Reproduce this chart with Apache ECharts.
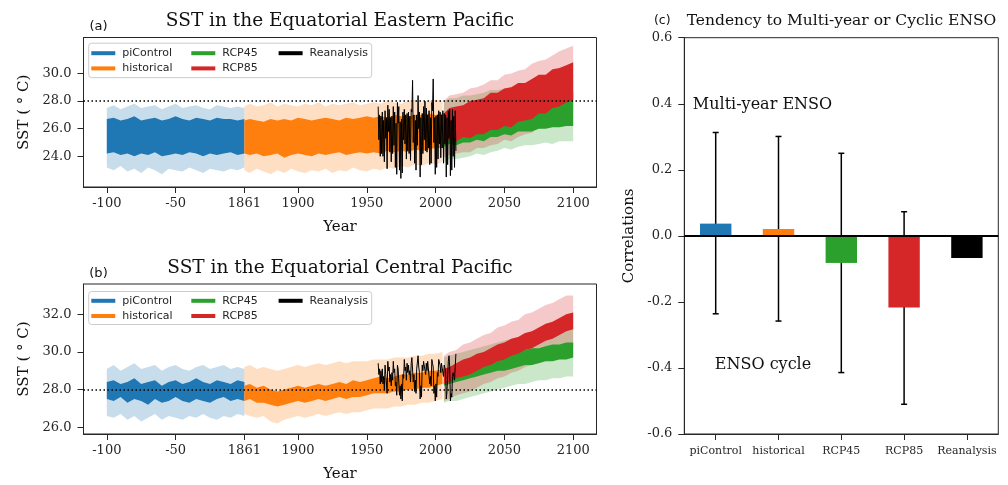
<!DOCTYPE html>
<html><head><meta charset="utf-8">
<script src="https://cdn.jsdelivr.net/npm/echarts@6/dist/echarts.min.js"></script>
<style>html,body{margin:0;padding:0;background:#fff}#c{width:1008px;height:485px}</style>
</head><body><div id="c"></div>
<script>
// ---------------- DATA ----------------
// x tick labels of panels (a)/(b): piControl years (-100..0) then calendar years
const xTickYears = [-100, -50, 1861, 1900, 1950, 2000, 2050, 2100];
const BASE_YEAR = 1861;

const piYears = [-100,-95,-90,-85,-80,-75,-70,-65,-60,-55,-50,-45,-40,-35,-30,-25,-20,-15,-10,-5,0];
const histYears = [1861,1865,1870,1875,1880,1885,1890,1895,1900,1905,1910,1915,1920,1925,1930,1935,1940,1945,1950,1955,1960,1965,1970,1975,1980,1985,1990,1995,2000,2005];
const rcpYears = [2006,2010,2015,2020,2025,2030,2035,2040,2045,2050,2055,2060,2065,2070,2075,2080,2085,2090,2095,2100];

// Panel (a) Eastern Pacific (deg C): dark band = model series range, light band = spread
const piA_darkTop  = [26.7,26.8,26.6,26.7,26.9,26.6,26.7,26.8,26.6,26.7,26.9,26.7,26.6,26.8,26.7,26.6,26.8,26.7,26.7,26.6,26.7];
const piA_darkBot  = [24.2,24.3,24.1,24.2,24.0,24.2,24.1,24.3,24.0,24.1,24.2,24.1,24.3,24.2,24.0,24.2,24.1,24.2,24.3,24.1,24.2];
const piA_lightTop = [27.5,27.7,27.4,27.6,27.8,27.5,27.6,27.7,27.4,27.6,27.8,27.5,27.6,27.7,27.5,27.4,27.7,27.6,27.5,27.6,27.5];
const piA_lightBot = [23.2,23.0,23.3,22.9,23.1,22.8,23.2,23.0,22.7,23.1,23.0,22.9,23.2,23.0,22.8,23.1,23.0,22.9,23.1,23.0,23.2];

const histA_darkTop  = [26.6,26.7,26.6,26.5,26.7,26.6,26.7,26.6,26.8,26.7,26.6,26.7,26.8,26.7,26.6,26.8,26.7,26.8,26.9,26.8,26.9,26.8,27.0,26.9,26.9,27.0,27.0,27.1,27.0,27.1];
const histA_darkBot  = [24.2,24.1,24.2,24.0,24.1,24.2,23.9,24.1,24.2,24.1,24.0,24.2,24.1,24.2,24.3,24.1,24.2,24.3,24.2,24.3,24.2,24.4,24.3,24.4,24.3,24.5,24.4,24.5,24.6,24.6];
const histA_lightTop = [27.6,27.8,27.6,27.7,27.9,27.6,27.8,27.7,27.6,27.8,27.7,27.9,27.6,27.8,27.7,27.8,27.9,27.7,27.8,27.9,27.8,28.0,27.9,27.8,28.0,28.1,27.9,28.0,28.1,28.0];
const histA_lightBot = [23.0,22.8,23.1,22.9,22.7,23.0,22.8,23.1,22.9,22.8,23.0,22.9,23.1,22.8,23.0,22.9,23.2,23.0,22.9,23.1,23.0,23.2,23.1,23.3,23.2,23.4,23.3,23.5,23.4,23.6];

const rcp45A_darkTop  = [27.1,27.3,27.4,27.5,27.6,27.6,27.7,27.9,27.9,28.0,28.1,28.1,28.2,28.3,28.3,28.4,28.4,28.5,28.6,28.6];
const rcp45A_darkBot  = [24.7,24.9,24.8,25.0,25.0,25.2,25.1,25.4,25.4,25.6,25.5,25.8,25.8,25.8,26.0,26.0,26.1,26.1,26.2,26.2];
const rcp45A_lightTop = [28.0,28.2,28.2,28.4,28.4,28.5,28.6,28.8,28.8,28.9,29.0,29.1,29.2,29.2,29.3,29.4,29.4,29.5,29.6,29.6];
const rcp45A_lightBot = [23.5,23.8,23.8,23.9,24.0,24.2,24.1,24.3,24.4,24.6,24.5,24.7,24.8,24.8,24.9,25.0,24.9,25.1,25.1,25.1];

const rcp85A_darkTop  = [27.1,27.5,27.6,27.7,28.0,28.1,28.2,28.6,28.6,28.9,29.0,29.3,29.3,29.6,29.9,29.9,30.3,30.4,30.6,30.8];
const rcp85A_darkBot  = [25.0,25.2,25.1,25.4,25.3,25.6,25.6,25.9,25.9,26.2,26.1,26.5,26.6,26.7,27.1,27.1,27.5,27.6,27.9,28.1];
const rcp85A_lightTop = [28.0,28.4,28.5,28.6,28.9,29.0,29.2,29.5,29.5,29.9,30.0,30.2,30.3,30.7,30.9,31.0,31.3,31.6,31.8,32.0];
const rcp85A_lightBot = [23.9,24.1,24.2,24.3,24.3,24.6,24.6,24.8,24.9,25.2,25.1,25.4,25.6,25.7,26.1,26.1,26.5,26.6,26.9,27.1];

// Reanalysis 1958-2014: per year warm-season peak and cold-season trough
const REAN_START = 1958;
const reanA_max = [27.6,27.0,26.9,27.2,26.6,27.3,26.8,27.7,27.4,26.8,26.9,27.6,27.2,26.4,27.9,27.6,26.5,26.7,27.2,27.4,27.0,27.1,27.2,26.9,27.4,29.5,27.0,26.6,27.0,28.4,27.2,26.8,27.1,27.6,28.0,27.5,27.0,27.3,26.8,27.9,29.6,26.8,26.9,27.0,27.3,27.2,27.0,27.3,27.1,27.0,26.8,27.3,27.4,26.6,27.4,26.9,27.3];
const reanA_min = [25.2,24.0,24.2,24.0,23.6,25.3,23.1,25.8,24.3,23.6,24.2,24.8,23.2,22.7,26.4,23.0,22.4,22.8,25.2,24.9,23.8,24.4,24.2,23.7,27.2,25.0,23.5,23.0,24.8,26.0,22.5,23.4,24.2,25.2,24.4,24.3,24.6,23.4,23.5,27.3,25.0,22.7,23.2,23.8,24.9,23.9,24.6,23.5,24.9,22.5,23.4,25.3,22.6,23.0,24.0,23.2,24.4];

// Panel (b) Central Pacific (deg C)
const piB_darkTop  = [28.4,28.5,28.3,28.4,28.6,28.3,28.4,28.5,28.2,28.4,28.5,28.3,28.4,28.6,28.4,28.3,28.5,28.4,28.3,28.5,28.4];
const piB_darkBot  = [27.5,27.4,27.6,27.3,27.5,27.4,27.2,27.5,27.3,27.4,27.6,27.4,27.3,27.5,27.4,27.3,27.5,27.6,27.4,27.5,27.4];
const piB_lightTop = [29.1,29.3,29.0,29.2,29.4,29.1,29.2,29.3,29.0,29.2,29.3,29.1,29.0,29.2,29.3,29.1,29.2,29.3,29.1,29.2,29.1];
const piB_lightBot = [26.6,26.5,26.7,26.4,26.6,26.3,26.5,26.7,26.4,26.6,26.5,26.4,26.6,26.5,26.7,26.5,26.4,26.6,26.5,26.7,26.6];

const histB_darkTop  = [28.2,28.3,28.1,28.2,28.0,27.9,28.0,28.1,28.2,28.1,28.2,28.3,28.2,28.3,28.4,28.3,28.5,28.4,28.5,28.6,28.7,28.6,28.7,28.8,28.8,28.9,28.9,29.0,29.0,29.1];
const histB_darkBot  = [27.4,27.5,27.3,27.3,27.2,27.1,27.2,27.3,27.4,27.3,27.4,27.5,27.4,27.5,27.6,27.5,27.6,27.6,27.7,27.8,27.8,27.8,27.9,27.9,28.0,28.0,28.1,28.1,28.2,28.3];
const histB_lightTop = [29.2,29.3,29.1,29.2,29.1,29.0,29.1,29.2,29.3,29.2,29.3,29.4,29.3,29.4,29.5,29.4,29.5,29.5,29.5,29.6,29.6,29.6,29.7,29.7,29.7,29.8,29.8,29.9,29.9,30.0];
const histB_lightBot = [26.7,26.6,26.5,26.6,26.3,26.2,26.4,26.5,26.6,26.5,26.6,26.7,26.6,26.7,26.8,26.7,26.8,26.8,26.9,27.0,27.0,27.0,27.1,27.1,27.2,27.2,27.3,27.3,27.4,27.5];

const rcp45B_darkTop  = [29.0,29.1,29.2,29.3,29.4,29.5,29.6,29.7,29.8,29.9,29.9,30.0,30.1,30.2,30.2,30.3,30.4,30.4,30.5,30.5];
const rcp45B_darkBot  = [28.2,28.3,28.4,28.5,28.6,28.7,28.8,28.9,29.0,29.0,29.1,29.2,29.3,29.3,29.4,29.5,29.5,29.6,29.6,29.7];
const rcp45B_lightTop = [29.7,29.8,29.9,30.0,30.1,30.2,30.3,30.4,30.5,30.6,30.7,30.8,30.8,30.9,31.0,31.0,31.1,31.1,31.2,31.2];
const rcp45B_lightBot = [27.3,27.4,27.4,27.5,27.6,27.7,27.8,27.9,28.0,28.1,28.2,28.3,28.3,28.4,28.5,28.5,28.6,28.6,28.7,28.7];

const rcp85B_darkTop  = [29.1,29.2,29.4,29.6,29.7,29.9,30.0,30.2,30.4,30.5,30.7,30.8,31.0,31.1,31.3,31.5,31.6,31.8,32.0,32.1];
const rcp85B_darkBot  = [28.3,28.4,28.6,28.7,28.8,29.0,29.2,29.3,29.5,29.6,29.8,29.9,30.1,30.2,30.4,30.6,30.7,30.9,31.1,31.2];
const rcp85B_lightTop = [29.8,30.0,30.1,30.4,30.5,30.7,30.9,31.0,31.3,31.4,31.6,31.7,32.0,32.1,32.3,32.5,32.6,32.8,33.0,33.0];
const rcp85B_lightBot = [27.4,27.5,27.7,27.8,27.9,28.1,28.3,28.4,28.6,28.7,28.9,29.0,29.2,29.3,29.5,29.6,29.8,29.9,30.1,30.2];

const reanB_max = [29.4,29.1,29.0,29.1,28.7,29.3,28.7,29.5,29.2,28.8,28.9,29.5,29.1,28.4,29.3,29.2,28.2,28.3,28.8,29.6,29.2,29.4,29.3,29.0,29.4,29.6,28.8,28.5,29.1,29.8,28.9,28.2,29.3,29.5,29.6,29.4,29.5,29.4,28.7,29.6,29.2,28.2,28.3,28.9,29.6,29.3,29.4,29.3,29.3,29.0,27.9,29.5,29.2,27.8,28.7,28.7,29.2];
const reanB_min = [28.8,28.3,28.4,28.3,28.0,28.8,27.8,29.0,28.4,28.2,28.5,28.9,28.2,27.7,29.1,27.7,27.5,27.4,28.6,29.0,28.5,28.9,28.8,28.4,29.7,28.4,27.9,27.8,29.1,29.2,27.5,27.6,29.0,29.4,28.8,29.0,29.6,28.3,28.2,29.4,27.8,27.4,27.6,28.7,29.7,28.9,29.5,28.7,29.4,27.5,27.8,29.8,27.4,27.6,28.9,28.5,29.9];

// Panel (c)
const categories = ['piControl','historical','RCP45','RCP85','Reanalysis'];
const corrValues = [0.037, 0.021, -0.082, -0.217, -0.067];
const errHigh = [0.313, 0.301, 0.250, 0.073, null];
const errLow  = [-0.236, -0.258, -0.414, -0.510, null];

// ---------------- STYLE ----------------
const COL = {piControl:'#1f77b4', historical:'#ff7f0e', RCP45:'#2ca02c', RCP85:'#d62728', Reanalysis:'#000000'};
const SERIF = 'DejaVu Serif', SANS = 'DejaVu Sans';
const INK = '#262626';
const LIGHT_OP = 0.25;

const pos = y => y - BASE_YEAR;
const xTickPos = xTickYears.map(y => y >= BASE_YEAR ? pos(y) : y);
const fmtX = v => { const i = xTickPos.findIndex(p => Math.abs(p - v) < 1e-6); return i >= 0 ? String(xTickYears[i]) : ''; };

function band(name, xs, lo, hi, color, op, g) {
  return {
    type: 'custom', name, xAxisIndex: g, yAxisIndex: g, coordinateSystem: 'cartesian2d',
    silent: true, animation: false, color: color,
    data: [[xs[0], lo[0]]],
    renderItem: function (params, api) {
      const n = Math.min(xs.length, lo.length, hi.length);
      const pts = [];
      for (let i = 0; i < n; i++) pts.push(api.coord([xs[i], hi[i]]));
      for (let i = n - 1; i >= 0; i--) pts.push(api.coord([xs[i], lo[i]]));
      return { type: 'polygon', shape: { points: pts }, style: { fill: color, opacity: op } };
    }
  };
}
function reanLine(maxArr, minArr, g) {
  const d = [];
  for (let i = 0; i < maxArr.length; i++) {
    const y = REAN_START + i;
    d.push([pos(y) + 0.25, maxArr[i]]);
    d.push([pos(y) + 0.75, minArr[i]]);
  }
  return {
    type: 'line', name: 'Reanalysis', xAxisIndex: g, yAxisIndex: g, data: d,
    showSymbol: false, symbol: 'none', color: '#000', lineStyle: { color: '#000', width: 1 },
    silent: true,
    markLine: { silent: true, symbol: 'none', label: { show: false },
      lineStyle: { color: '#000', width: 1.5, type: [1.5, 2.5] }, data: [{ yAxis: 28 }] }
  };
}
function panelSeries(g, d) {
  const px = piYears, hx = histYears.map(pos), rx = rcpYears.map(pos);
  return [
    // light spread bands first
    band('piControl', px, d.pi[3], d.pi[2], COL.piControl, LIGHT_OP, g),
    band('historical', hx, d.hi[3], d.hi[2], COL.historical, LIGHT_OP, g),
    band('RCP45', rx, d.r45[3], d.r45[2], COL.RCP45, LIGHT_OP, g),
    band('RCP85', rx, d.r85[3], d.r85[2], COL.RCP85, LIGHT_OP, g),
    // solid bands
    band('piControl', px, d.pi[1], d.pi[0], COL.piControl, 1, g),
    band('historical', hx, d.hi[1], d.hi[0], COL.historical, 1, g),
    band('RCP45', rx, d.r45[1], d.r45[0], COL.RCP45, 1, g),
    band('RCP85', rx, d.r85[1], d.r85[0], COL.RCP85, 1, g),
    reanLine(d.rmax, d.rmin, g)
  ];
}

function xAxisTS(g) {
  return {
    type: 'value', gridIndex: g, min: -116.95, max: 255.95,
    splitLine: { show: false },
    axisLine: { show: true, onZero: false, lineStyle: { color: INK, width: 1 } },
    axisTick: { show: true, length: 6, customValues: xTickPos, lineStyle: { color: INK } },
    axisLabel: { customValues: xTickPos, formatter: fmtX, margin: 10, fontFamily: SERIF, fontSize: 13, color: INK },
    name: 'Year', nameLocation: 'middle', nameGap: 33,
    nameTextStyle: { fontFamily: SERIF, fontSize: 15, color: '#111' }
  };
}
function yAxisTS(g, min, max, ticks) {
  return {
    type: 'value', gridIndex: g, min, max,
    splitLine: { show: false },
    axisLine: { show: true, onZero: false, lineStyle: { color: INK, width: 1 } },
    axisTick: { show: true, length: 6, customValues: ticks, lineStyle: { color: INK } },
    axisLabel: { customValues: ticks, formatter: v => v.toFixed(1), margin: 12, fontFamily: SERIF, fontSize: 13, color: INK },
    name: 'SST ( \u00B0 C)', nameLocation: 'middle', nameGap: 50, nameRotate: 90,
    nameTextStyle: { fontFamily: SERIF, fontSize: 15, color: '#111' }
  };
}

function legendCol(names, left, top) {
  return {
    left, top, orient: 'vertical', padding: 0, itemGap: 3.2,
    itemWidth: 24, itemHeight: 4, icon: 'rect', selectedMode: false,
    textStyle: { fontFamily: SANS, fontSize: 11, lineHeight: 12, color: INK, padding: [0, 0, 0, 2] },
    data: names.map(n => ({ name: n, itemStyle: { color: COL[n] } }))
  };
}
function legendsFor(row1) {
  return [
    legendCol(['piControl', 'historical'], 91.3, row1 - 4.5),
    legendCol(['RCP45', 'RCP85'], 191.3, row1 - 4.5),
    legendCol(['Reanalysis'], 278.6, row1 - 4.5)
  ];
}

const gridBox = { show: true, borderColor: INK, borderWidth: 1, backgroundColor: 'transparent', containLabel: false, outerBoundsMode: 'none' };

const option = {
  animation: false,
  backgroundColor: '#fff',
  grid: [
    Object.assign({ left: 83.5, top: 37.5, width: 513, height: 149.5 }, gridBox),
    Object.assign({ left: 83.5, top: 284, width: 513, height: 150 }, gridBox),
    Object.assign({ left: 684.3, top: 37.7, width: 314, height: 396.3 }, gridBox)
  ],
  xAxis: [
    xAxisTS(0), xAxisTS(1),
    {
      type: 'category', gridIndex: 2, data: categories,
      axisLine: { show: true, onZero: false, lineStyle: { color: INK } },
      axisTick: { show: true, alignWithLabel: true, length: 6, lineStyle: { color: INK } },
      axisLabel: { margin: 12, fontFamily: SERIF, fontSize: 11, color: INK, interval: 0 },
      splitLine: { show: false }
    }
  ],
  yAxis: [
    yAxisTS(0, 21.78, 32.6, [24, 26, 28, 30]),
    yAxisTS(1, 25.64, 33.61, [26, 28, 30, 32]),
    {
      type: 'value', gridIndex: 2, min: -0.6, max: 0.6, interval: 0.2,
      splitLine: { show: false },
      axisLine: { show: true, onZero: false, lineStyle: { color: INK } },
      axisTick: { show: true, length: 6, lineStyle: { color: INK } },
      axisLabel: { margin: 12, fontFamily: SERIF, fontSize: 13, color: INK,
        formatter: v => Math.abs(v) < 1e-9 ? '0.0' : v.toFixed(1) },
      name: 'Correlations', nameLocation: 'middle', nameGap: 47.5, nameRotate: 90,
      nameTextStyle: { fontFamily: SERIF, fontSize: 15, color: '#111' }
    }
  ],
  legend: legendsFor(51.7).concat(legendsFor(299.3)),
  series: [].concat(
    panelSeries(0, {
      pi: [piA_darkTop, piA_darkBot, piA_lightTop, piA_lightBot],
      hi: [histA_darkTop, histA_darkBot, histA_lightTop, histA_lightBot],
      r45: [rcp45A_darkTop, rcp45A_darkBot, rcp45A_lightTop, rcp45A_lightBot],
      r85: [rcp85A_darkTop, rcp85A_darkBot, rcp85A_lightTop, rcp85A_lightBot],
      rmax: reanA_max, rmin: reanA_min
    }),
    panelSeries(1, {
      pi: [piB_darkTop, piB_darkBot, piB_lightTop, piB_lightBot],
      hi: [histB_darkTop, histB_darkBot, histB_lightTop, histB_lightBot],
      r45: [rcp45B_darkTop, rcp45B_darkBot, rcp45B_lightTop, rcp45B_lightBot],
      r85: [rcp85B_darkTop, rcp85B_darkBot, rcp85B_lightTop, rcp85B_lightBot],
      rmax: reanB_max, rmin: reanB_min
    }),
    [
      {
        type: 'bar', name: 'corr', xAxisIndex: 2, yAxisIndex: 2, barWidth: '50%', silent: true,
        data: corrValues.map((v, i) => ({ value: v, itemStyle: { color: COL[categories[i]] } })),
        markLine: { silent: true, symbol: 'none', label: { show: false },
          lineStyle: { color: '#000', width: 2, type: 'solid' }, data: [{ yAxis: 0 }] }
      },
      {
        type: 'custom', name: 'err', xAxisIndex: 2, yAxisIndex: 2, silent: true,
        encode: { x: 0, y: [1, 2] },
        data: categories.map((c, i) => [i, errLow[i], errHigh[i]]).filter(d => d[1] != null),
        renderItem: function (params, api) {
          const lo = api.coord([api.value(0), api.value(1)]);
          const hi = api.coord([api.value(0), api.value(2)]);
          const s = { stroke: '#000', lineWidth: 1.5 };
          return { type: 'group', children: [
            { type: 'line', shape: { x1: lo[0], y1: lo[1], x2: hi[0], y2: hi[1] }, style: s },
            { type: 'line', shape: { x1: lo[0] - 3, y1: lo[1], x2: lo[0] + 3, y2: lo[1] }, style: s },
            { type: 'line', shape: { x1: hi[0] - 3, y1: hi[1], x2: hi[0] + 3, y2: hi[1] }, style: s }
          ] };
        }
      }
    ]
  ),
  graphic: [
    { type: 'rect', z: 1, shape: { x: 88.7, y: 43.2, width: 283, height: 34.5, r: 3 }, style: { fill: 'rgba(255,255,255,0.8)', stroke: '#cccccc', lineWidth: 1 } },
    { type: 'rect', z: 1, shape: { x: 88.7, y: 291.5, width: 283, height: 33, r: 3 }, style: { fill: 'rgba(255,255,255,0.8)', stroke: '#cccccc', lineWidth: 1 } },
    { type: 'text', x: 340, y: 20.7, style: { text: 'SST in the Equatorial Eastern Pacific', fontFamily: SERIF, fontSize: 18.5, fill: '#111', textAlign: 'center', textVerticalAlign: 'middle', verticalAlign: 'middle' } },
    { type: 'text', x: 98.5, y: 26.7, style: { text: '(a)', fontFamily: SANS, fontSize: 13, fill: '#111', textAlign: 'center', textVerticalAlign: 'middle', verticalAlign: 'middle' } },
    { type: 'text', x: 340, y: 268.3, style: { text: 'SST in the Equatorial Central Pacific', fontFamily: SERIF, fontSize: 18.5, fill: '#111', textAlign: 'center', textVerticalAlign: 'middle', verticalAlign: 'middle' } },
    { type: 'text', x: 98.5, y: 274, style: { text: '(b)', fontFamily: SANS, fontSize: 13, fill: '#111', textAlign: 'center', textVerticalAlign: 'middle', verticalAlign: 'middle' } },
    { type: 'text', x: 662.3, y: 21, style: { text: '(c)', fontFamily: SANS, fontSize: 12.5, fill: '#111', textAlign: 'center', textVerticalAlign: 'middle', verticalAlign: 'middle' } },
    { type: 'text', x: 841.5, y: 21, style: { text: 'Tendency to Multi-year or Cyclic ENSO', fontFamily: SERIF, fontSize: 15.5, fill: '#111', textAlign: 'center', textVerticalAlign: 'middle', verticalAlign: 'middle' } },
    { type: 'text', x: 762.5, y: 105.3, style: { text: 'Multi-year ENSO', fontFamily: SERIF, fontSize: 16, fill: '#111', textAlign: 'center', textVerticalAlign: 'middle', verticalAlign: 'middle' } },
    { type: 'text', x: 763, y: 365, style: { text: 'ENSO cycle', fontFamily: SERIF, fontSize: 16, fill: '#111', textAlign: 'center', textVerticalAlign: 'middle', verticalAlign: 'middle' } }
  ]
};

const chart = echarts.init(document.getElementById('c'), null, { renderer: 'canvas' });
chart.setOption(option);
</script></body></html>
